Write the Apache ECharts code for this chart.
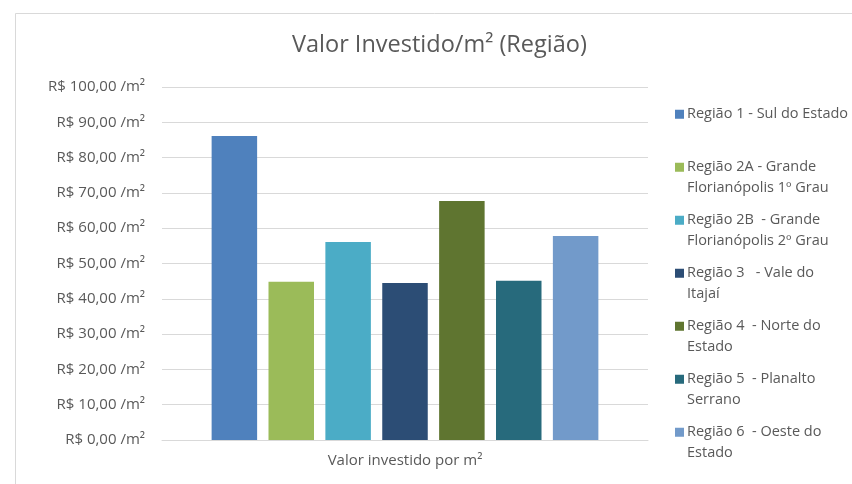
<!DOCTYPE html>
<html>
<head>
<meta charset="utf-8">
<script src="https://cdn.jsdelivr.net/npm/echarts@6/dist/echarts.min.js"></script>
<style>
  html, body { margin: 0; padding: 0; background: #fff; }
  #chart { width: 852px; height: 484px; }
</style>
</head>
<body>
<div id="chart"></div>
<script>
// dados do grafico
const categories = ['Valor investido por m²'];
const regioes = [
    'Região 1 - Sul do Estado',
    'Região 2A - Grande Florianópolis 1º Grau',
    'Região 2B  - Grande Florianópolis 2º Grau',
    'Região 3   - Vale do Itajaí',
    'Região 4  - Norte do Estado',
    'Região 5  - Planalto Serrano',
    'Região 6  - Oeste do Estado'
];
// texto da legenda quebrado como no original
const legendLabels = [
    'Região 1 - Sul do Estado\n ',
    'Região 2A - Grande\nFlorianópolis 1º Grau',
    'Região 2B  - Grande\nFlorianópolis 2º Grau',
    'Região 3   - Vale do\nItajaí',
    'Região 4  - Norte do\nEstado',
    'Região 5  - Planalto\nSerrano',
    'Região 6  - Oeste do\nEstado'
];
const valores = [86.1, 44.8, 56.1, 44.5, 67.7, 45.1, 57.8];
const cores = ['#4F81BD', '#9BBB59', '#4BACC6', '#2C4D75', '#5F7530', '#276A7C', '#729ACA'];

const fonte = '"Open Sans", sans-serif';
const cinza = '#595959';

const myChart = echarts.init(document.getElementById('chart'), null, { renderer: 'canvas' });

// quadrado da legenda alinhado com a primeira linha
const legendIcon = 'path://M0,0L9,0M0,5.75L9,5.75L9,14.75L0,14.75ZM0,41L9,41';

const option = {
    backgroundColor: '#fff',
    animation: false,
    textStyle: { fontFamily: fonte },
    graphic: [{
        type: 'rect',
        left: 13,
        top: 11,
        shape: { width: 900, height: 600 },
        style: { fill: 'none', stroke: '#d9d9d9', lineWidth: 1 },
        silent: true
    }],
    title: {
        text: 'Valor Investido/m² (Região)',
        left: 287,
        top: 28,
        textStyle: { fontFamily: fonte, fontSize: 23.5, fontWeight: 'normal', color: cinza }
    },
    legend: {
        orient: 'vertical',
        left: 670,
        top: 99,
        itemWidth: 9,
        itemHeight: 41,
        itemGap: 12,
        icon: legendIcon,
        itemStyle: { borderWidth: 0 },
        textStyle: { fontFamily: fonte, fontSize: 14.5, color: cinza, lineHeight: 20.5, padding: [0, 0, 0, -2] },
        data: regioes,
        formatter: function (name) {
            return legendLabels[regioes.indexOf(name)];
        }
    },
    grid: { left: 162, right: 204, top: 87, bottom: 44, containLabel: false },
    xAxis: {
        type: 'category',
        data: categories,
        axisTick: { show: false },
        axisLine: { lineStyle: { color: '#d9d9d9', width: 1 } },
        axisLabel: { color: cinza, fontFamily: fonte, fontSize: 15, margin: 13 }
    },
    yAxis: {
        type: 'value',
        min: 0,
        max: 100,
        interval: 10,
        axisLine: { show: false },
        axisTick: { show: false },
        splitLine: { lineStyle: { color: '#d9d9d9', width: 1 } },
        axisLabel: {
            color: cinza,
            fontFamily: fonte,
            fontSize: 15,
            margin: 17,
            formatter: function (v) {
                return 'R$ ' + v.toFixed(2).replace('.', ',') + ' /m²';
            }
        }
    },
    series: regioes.map(function (nome, i) {
        return {
            name: nome,
            type: 'bar',
            data: [valores[i]],
            barWidth: 45.5,
            barGap: '25%',
            itemStyle: { color: cores[i] }
        };
    })
};

myChart.setOption(option);
</script>
</body>
</html>
